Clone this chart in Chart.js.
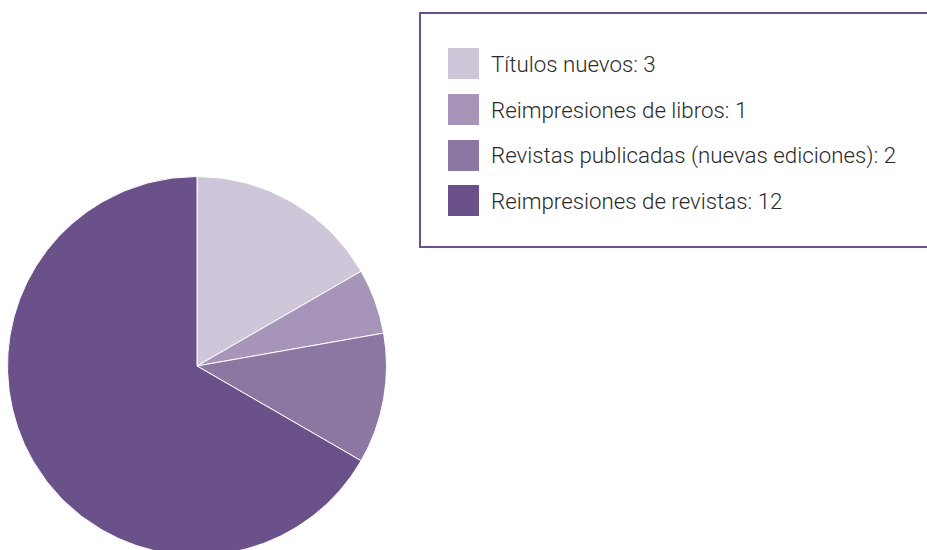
<!DOCTYPE html>
<html>
<head>
<meta charset="utf-8">
<script src="https://cdn.jsdelivr.net/npm/chart.js@4.4.0/dist/chart.umd.min.js"></script>
<style>
  html, body { margin: 0; padding: 0; background: #fff; overflow: hidden; }
  body { width: 927px; height: 550px; position: relative; }
  #pieWrap { position: absolute; left: 7px; top: 176px; width: 380px; height: 380px; }
  #legend {
    position: absolute; left: 419px; top: 12px; width: 520px; height: 232px;
    border: 2px solid #6a5189; box-sizing: content-box;
  }
  #legend ul { list-style: none; margin: 0; padding: 0; position: absolute; left: 27px; top: 27px; }
  #legend li { display: flex; align-items: center; height: 45.7px; }
  #legend .box { width: 31px; height: 31px; margin-right: 12px; }
  #legend .txt { font-family: Roboto, sans-serif; font-weight: 300; font-size: 22.3px; color: #2a2a2a; }
</style>
</head>
<body>
<div id="pieWrap"><canvas id="pieChart" width="380" height="380"></canvas></div>
<div id="legend"><ul id="legendList"></ul></div>
<script>
// 分类与数值
var categories = ["Títulos nuevos", "Reimpresiones de libros", "Revistas publicadas (nuevas ediciones)", "Reimpresiones de revistas"];
var values = [3, 1, 2, 12];
var colors = ["#cfc6da", "#a695b8", "#8c77a2", "#6a5189"];

var pieCtx = document.getElementById("pieChart");
var pieChart = new Chart(pieCtx, {
    type: 'pie',
    data: {
        labels: categories,
        datasets: [{
            data: values,
            backgroundColor: colors,
            borderColor: "#ffffff",
            borderWidth: 1
        }]
    },
    options: {
        responsive: false,
        animation: false,
        layout: { padding: 0 },
        plugins: {
            legend: { display: false },
            tooltip: { enabled: false }
        }
    }
});

// 自定义图例，用图表自己的标签生成
var list = document.getElementById("legendList");
pieChart.options.plugins.legend.labels.generateLabels(pieChart).forEach(function (item, i) {
    var li = document.createElement("li");
    var box = document.createElement("span");
    box.className = "box";
    box.style.background = item.fillStyle;
    var txt = document.createElement("span");
    txt.className = "txt";
    txt.textContent = item.text + ": " + values[i];
    li.appendChild(box);
    li.appendChild(txt);
    list.appendChild(li);
});
</script>
</body>
</html>
